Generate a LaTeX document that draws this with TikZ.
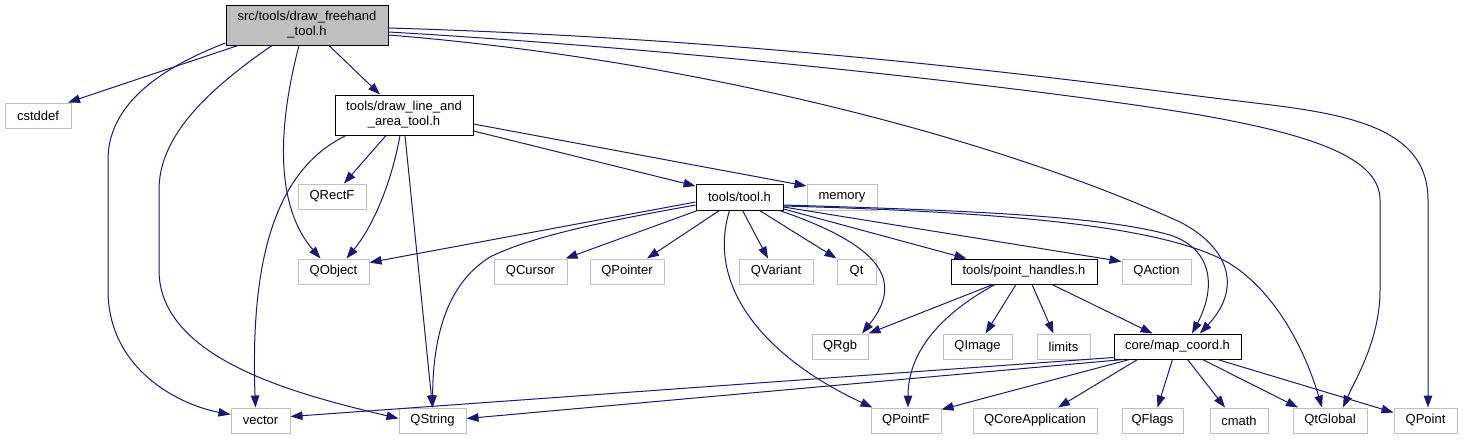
\documentclass[tikz,border=0pt]{standalone}
\usepackage{fontspec}
\setmainfont{Liberation Sans}
\usetikzlibrary{arrows.meta,calc}
\definecolor{edgec}{HTML}{191970}
\definecolor{greyb}{HTML}{BFBFBF}
\begin{document}
\begin{tikzpicture}[x=1pt,y=-1pt,
  box/.style={draw=greyb,line width=1pt,fill=white,inner sep=0pt,minimum height=25pt,font=\fontsize{13}{15}\selectfont,align=center},
  docbox/.style={box,draw=black},
  rootbox/.style={box,draw=black,fill=greyb},
  e/.style={draw=edgec,line width=1pt,-{Triangle[length=12pt,width=8.5pt]},fill=none},
]
\useasboundingbox (0,0) rectangle (1463,440);
% nodes
\node[rootbox,minimum width=162pt,minimum height=40pt] (root) at (307,25) {src/tools/draw\_freehand\\\_tool.h};
\node[box,minimum width=66pt] (cstddef) at (38,115.5) {cstddef};
\node[docbox,minimum width=138pt,minimum height=40pt] (dla) at (404,115) {tools/draw\_line\_and\\\_area\_tool.h};
\node[box,minimum width=68pt] (QRectF) at (332,196.5) {QRectF};
\node[docbox,minimum width=87pt,minimum height=26pt] (tool) at (739.5,197) {tools/tool.h};
\node[box,minimum width=70pt,minimum height=26pt] (memory) at (842,197) {memory};
\node[box,minimum width=71pt] (QObject) at (333.5,271.5) {QObject};
\node[box,minimum width=73pt] (QCursor) at (530.5,271.5) {QCursor};
\node[box,minimum width=74pt] (QPointer) at (627,271.5) {QPointer};
\node[box,minimum width=74pt] (QVariant) at (776,271.5) {QVariant};
\node[box,minimum width=39pt] (Qt) at (856.5,271.5) {Qt};
\node[docbox,minimum width=146pt] (ph) at (1024,271.5) {tools/point\_handles.h};
\node[box,minimum width=69pt] (QAction) at (1156.5,271.5) {QAction};
\node[box,minimum width=56pt] (QRgb) at (840,346.5) {QRgb};
\node[box,minimum width=69pt] (QImage) at (977.5,346.5) {QImage};
\node[box,minimum width=53pt] (limits) at (1063.5,346.5) {limits};
\node[docbox,minimum width=127pt] (mc) at (1177.5,346.5) {core/map\_coord.h};
\node[box,minimum width=59pt] (vector) at (260.5,420.5) {vector};
\node[box,minimum width=67pt] (QString) at (432.5,420.5) {QString};
\node[box,minimum width=70pt] (QPointF) at (906,420.5) {QPointF};
\node[box,minimum width=124pt] (QCoreApplication) at (1035,420.5) {QCoreApplication};
\node[box,minimum width=61pt] (QFlags) at (1152.5,420.5) {QFlags};
\node[box,minimum width=58pt] (cmath) at (1239,420.5) {cmath};
\node[box,minimum width=74pt] (QtGlobal) at (1330,420.5) {QtGlobal};
\node[box,minimum width=63pt] (QPoint) at (1425.5,420.5) {QPoint};
% root edges
\draw[e] ($(root.south)+(-69,0)$) -- ($(cstddef.north)+(30,0)$);
\draw[e] ($(root.west)+(0,18)$) .. controls (150,72) and (108,110) .. (108,160) -- (108,290) .. controls (108,370) and (180,405) .. ($(vector.west)+(0,-6)$);
\draw[e] ($(root.south)+(-35,0)$) .. controls (200,95) and (159,140) .. (159,190) -- (159,270) .. controls (159,360) and (300,395) .. ($(QString.west)+(0,-2)$);
\draw[e] ($(root.south)+(-8,0)$) .. controls (282,110) and (270,200) .. ($(QObject.north)+(-13,0)$);
\draw[e] ($(root.south)+(22,0)$) -- ($(dla.north)+(-24,0)$);
\draw[e] ($(root.east)+(0,3)$) .. controls (800,40) and (1130,88) .. (1230,100) .. controls (1330,112) and (1428,120) .. (1428,200) -- ($(QPoint.north)+(2.5,0)$);
\draw[e] ($(root.east)+(0,7)$) .. controls (700,50) and (1050,90) .. (1200,115) .. controls (1320,136) and (1380,160) .. (1380,200) -- (1380,290) .. controls (1380,340) and (1355,380) .. ($(QtGlobal.north)+(13,0)$);
\draw[e] ($(root.east)+(0,10)$) .. controls (700,60) and (1000,140) .. (1180,222) .. controls (1225,245) and (1245,285) .. ($(mc.north)+(22.5,0)$);
% draw_line_and_area edges
\draw[e] ($(dla.south)+(-58,0)$) .. controls (275,170) and (250,260) .. ($(vector.north)+(-5,0)$);
\draw[e] ($(dla.south)+(-18,0)$) -- ($(QRectF.north)+(12,0)$);
\draw[e] ($(dla.south)+(-4,0)$) .. controls (390,190) and (370,230) .. ($(QObject.north)+(13,0)$);
\draw[e] ($(dla.south)+(1,0)$) -- (QString.north);
\draw[e] ($(dla.east)+(0,16)$) -- ($(tool.west)+(0,-11)$);
\draw[e] ($(dla.east)+(0,9)$) -- ($(memory.west)+(0,-11)$);
% tool.h edges
\draw[e] ($(tool.west)+(0,5)$) -- ($(QObject.east)+(0,-9)$);
\draw[e] ($(tool.west)+(0,8)$) .. controls (600,222) and (530,237) .. (490,257) .. controls (445,285) and (433,340) .. (QString.north);
\draw[e] ($(tool.south west)+(2,0)$) -- ($(QCursor.north)+(35,0)$);
\draw[e] ($(tool.south)+(-20,0)$) -- ($(QPointer.north)+(20,0)$);
\draw[e] ($(tool.south)+(-10,0)$) .. controls (705,290) and (770,360) .. ($(QPointF.north west)+(2,0)$);
\draw[e] ($(tool.south)+(3,0)$) -- ($(QVariant.north)+(-8,0)$);
\draw[e] ($(tool.south)+(20,0)$) -- (Qt.north west);
\draw[e] ($(tool.south east)+(-4,0)$) .. controls (880,245) and (905,280) .. ($(QRgb.north)+(22,0)$);
\draw[e] ($(tool.east)+(0,12)$) -- ($(ph.north west)+(16,0)$);
\draw[e] ($(tool.east)+(0,10)$) -- ($(QAction.west)+(0,-10)$);
\draw[e] ($(tool.east)+(0,8)$) .. controls (950,210) and (1100,215) .. (1170,235) .. controls (1215,250) and (1215,290) .. ($(mc.north)+(14.5,0)$);
\draw[e] ($(tool.east)+(0,9)$) .. controls (1000,212) and (1160,225) .. (1227,262) .. controls (1275,290) and (1305,350) .. ($(QtGlobal.north)+(-8,0)$);
% point_handles edges
\draw[e] ($(ph.south)+(-31,0)$) -- (QRgb.north east);
\draw[e] ($(ph.south)+(-29,0)$) .. controls (930,320) and (908,360) .. ($(QPointF.north)+(2,0)$);
\draw[e] ($(ph.south)+(-8,0)$) -- ($(QImage.north)+(8,0)$);
\draw[e] ($(ph.south)+(8,0)$) -- ($(limits.north)+(-10,0)$);
\draw[e] ($(ph.south)+(28,0)$) -- ($(mc.north)+(-25,0)$);
% map_coord edges
\draw[e] ($(mc.west)+(0,11)$) -- ($(vector.east)+(0,-4)$);
\draw[e] ($(mc.south west)+(10,0)$) -- ($(QString.east)+(0,-2)$);
\draw[e] ($(mc.south west)+(16,0)$) -- ($(QPointF.north east)+(0,2)$);
\draw[e] ($(mc.south)+(-40,0)$) -- ($(QCoreApplication.north)+(23,0)$);
\draw[e] ($(mc.south)+(-5,0)$) -- ($(QFlags.north)+(5,0)$);
\draw[e] ($(mc.south)+(10,0)$) -- ($(cmath.north)+(-14,0)$);
\draw[e] ($(mc.south)+(25,0)$) -- ($(QtGlobal.north)+(-32,0)$);
\draw[e] ($(mc.south)+(40,0)$) -- ($(QPoint.west)+(0,-8)$);
\end{tikzpicture}
\end{document}
